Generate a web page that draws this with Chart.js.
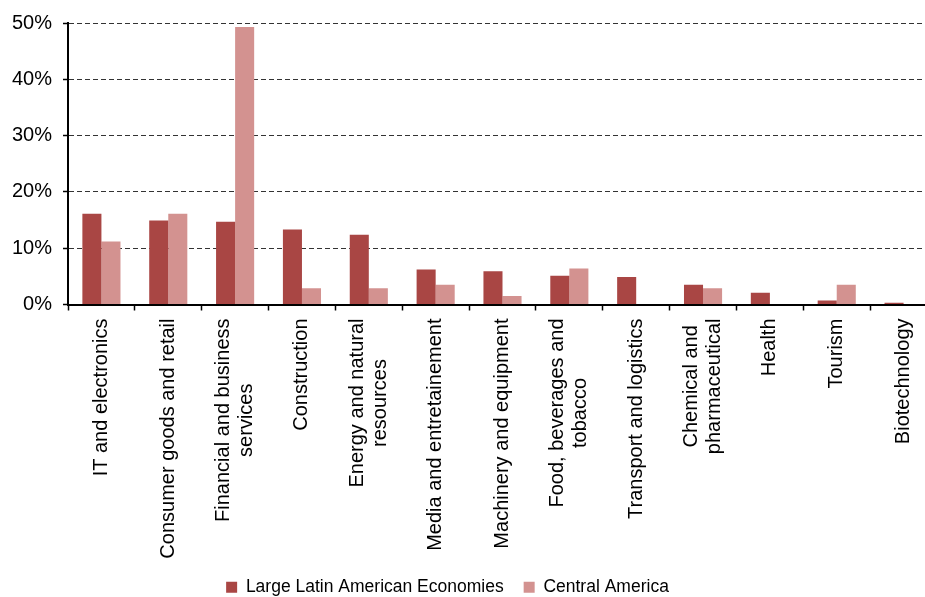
<!DOCTYPE html>
<html>
<head>
<meta charset="utf-8">
<title>Sectors</title>
<script src="https://cdn.jsdelivr.net/npm/chart.js@4.4.0/dist/chart.umd.min.js"></script>
<style>
  html, body { margin: 0; padding: 0; background: #fff; overflow: hidden; }
  #wrap { width: 925px; height: 597px; overflow: hidden; }
</style>
</head>
<body>
<div id="wrap"><canvas id="sector-chart" width="945" height="606"></canvas></div>
<script>
/*global document, Chart*/
"use strict";

var sector_list = [
  "IT and electronics",
  "Consumer goods and retail",
  ["Financial and business", "services"],
  "Construction",
  ["Energy and natural", "resources"],
  "Media and entretainement",
  "Machinery and equipment",
  ["Food, beverages and", "tobacco"],
  "Transport and logistics",
  ["Chemical and", "pharmaceutical"],
  "Health",
  "Tourism",
  "Biotechnology"
];
var large_economies = [16.1, 14.9, 14.7, 13.3, 12.4, 6.2, 5.9, 5.1, 4.9, 3.5, 2.1, 0.7, 0.3];
var central_america = [11.2, 16.1, 49.3, 2.9, 2.9, 3.5, 1.5, 6.4, 0, 2.9, 0, 3.5, 0];
var percent_ticks = [0, 10, 20, 30, 40, 50];

Chart.defaults.font.family = "'Liberation Sans', Arial, sans-serif";
Chart.defaults.color = "#000";

// wrapped category names: stack the lines around the tick and center them
var centerWrappedLabels = {
  id: "centerWrappedLabels",
  beforeDraw: function (chart) {
    var ctx = chart.ctx;
    chart.scales.x.getLabelItems().forEach(function (item) {
      var lines = item.label,
        widest = 0;
      if (!Array.isArray(lines) || item.centered) {
        return;
      }
      ctx.save();
      ctx.font = item.font.string;
      lines.forEach(function (line) {
        widest = Math.max(widest, ctx.measureText(line).width);
      });
      ctx.restore();
      item.options.translation[0] -= (lines.length - 1) * item.font.lineHeight / 2;
      item.options.translation[1] += widest / 2;
      item.options.textAlign = "center";
      item.centered = true;
    });
  }
};

new Chart(document.getElementById("sector-chart"), {
  type: "bar",
  data: {
    labels: sector_list,
    datasets: [
      {
        label: "Large Latin American Economies",
        data: large_economies,
        backgroundColor: "#A94644",
        borderWidth: 0,
        categoryPercentage: 0.57,
        barPercentage: 1
      },
      {
        label: "Central America",
        data: central_america,
        backgroundColor: "#D39290",
        borderWidth: 0,
        categoryPercentage: 0.57,
        barPercentage: 1
      }
    ]
  },
  options: {
    responsive: false,
    animation: false,
    layout: {
      padding: {left: -42, right: 8, top: 21.5, bottom: 0}
    },
    plugins: {
      legend: {
        position: "bottom",
        labels: {
          boxWidth: 11,
          boxHeight: 11,
          padding: 20,
          color: "#000",
          font: {size: 17.5}
        }
      },
      tooltip: {enabled: false}
    },
    scales: {
      x: {
        grid: {
          offset: true,
          drawOnChartArea: false,
          tickLength: 6,
          tickColor: "#000",
          tickWidth: 1.5
        },
        border: {color: "#000", width: 2, z: 1},
        ticks: {
          minRotation: 90,
          maxRotation: 90,
          autoSkip: false,
          padding: 8,
          font: {size: 20, lineHeight: 1.15}
        },
        afterFit: function (scale) {
          scale.height = 254;
        }
      },
      y: {
        min: 0,
        max: 50,
        grid: {
          color: function (context) {
            return context.tick && context.tick.value === 0 ? "rgba(0,0,0,0)" : "#333";
          },
          lineWidth: 1,
          tickLength: 5,
          tickColor: "#000",
          tickWidth: 1.5
        },
        border: {color: "#000", width: 2, dash: [5, 3], z: 1},
        ticks: {
          padding: 11,
          font: {size: 20},
          callback: function (value) {
            return value + "%";
          }
        },
        afterBuildTicks: function (scale) {
          scale.ticks = percent_ticks.map(function (value) {
            return {value: value};
          });
        },
        afterFit: function (scale) {
          scale.width = 110;
        }
      }
    }
  },
  plugins: [centerWrappedLabels]
});
</script>
</body>
</html>
